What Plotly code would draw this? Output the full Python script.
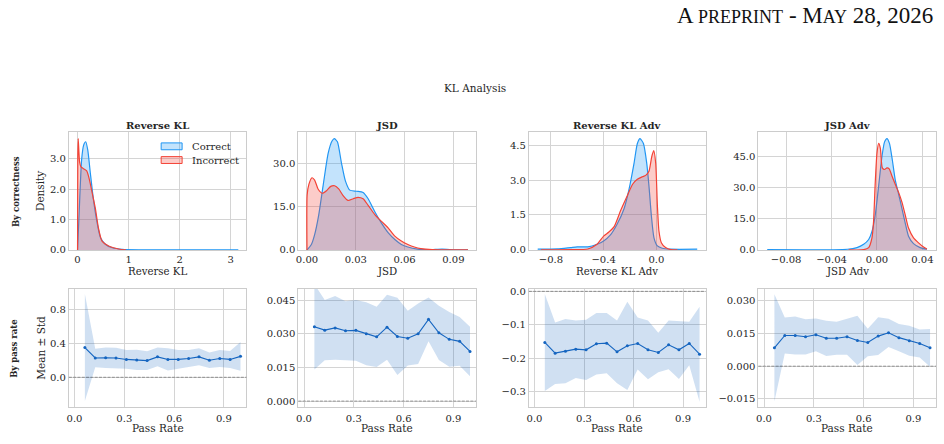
import plotly.graph_objects as go

W, H = 944, 444

# ---------------- data ----------------
panel_titles = ["Reverse KL", "JSD", "Reverse KL Adv", "JSD Adv"]
series_names = ["Correct", "Incorrect"]

# KDE curves (top row)
rkl_correct_x = [0, 0.027, 0.08, 0.12, 0.16, 0.2, 0.25, 0.31, 0.38, 0.45, 0.55, 0.68, 0.88, 1.2, 2.0, 3.15]
rkl_correct_y = [0, 1.04, 2.97, 3.45, 3.56, 3.29, 2.54, 1.68, 0.93, 0.4, 0.18, 0.07, 0.02, 0.005, 0.002, 0.0]
rkl_incorrect_x = [0, 0.005, 0.013, 0.04, 0.067, 0.11, 0.18, 0.23, 0.29, 0.35, 0.41, 0.48, 0.61, 0.81, 0.95]
rkl_incorrect_y = [0, 3.0, 3.66, 2.9, 2.73, 2.68, 2.6, 2.33, 1.85, 1.36, 0.72, 0.29, 0.13, 0.03, 0.0]

jsd_correct_x = [0, 0.0027, 0.0047, 0.0072, 0.0099, 0.013, 0.0154, 0.0168, 0.0187, 0.0212, 0.0236, 0.0263,
                 0.0304, 0.0345, 0.0376, 0.0417, 0.0458, 0.05, 0.054, 0.058, 0.062, 0.068, 0.075, 0.083, 0.091, 0.099]
jsd_correct_y = [0, 1.9, 5.3, 12.1, 22.3, 33.6, 37.9, 38.7, 37.6, 30.2, 24.0, 20.8,
                 20.4, 20.0, 17.8, 13.3, 9.3, 5.9, 3.6, 1.9, 1.0, 0.3, 0.05, 0.3, 0.02, 0.0]
jsd_incorrect_x = [0, 0.0001, 0.0012, 0.0031, 0.0047, 0.0068, 0.0095, 0.012, 0.0146, 0.017, 0.0195, 0.0222,
                   0.0253, 0.0284, 0.0314, 0.0345, 0.0376, 0.0417, 0.0458, 0.05, 0.054, 0.058, 0.062, 0.066,
                   0.070, 0.077, 0.09, 0.099]
jsd_incorrect_y = [0, 19.1, 22.9, 25.1, 24.3, 21.2, 19.7, 20.6, 22.1, 22.3, 21.2, 18.9,
                   17.2, 17.8, 18.3, 17.8, 15.5, 12.3, 9.9, 7.6, 4.8, 3.1, 1.9, 1.0,
                   0.45, 0.1, 0.0, 0.0]

rkla_correct_x = [-0.90, -0.75, -0.65, -0.6, -0.52, -0.45, -0.4, -0.35, -0.30, -0.245, -0.207, -0.169,
                  -0.144, -0.124, -0.098, -0.073, -0.056, -0.038, -0.018, 0.008, 0.045, 0.11, 0.31]
rkla_correct_y = [0.03, 0.04, 0.1, 0.13, 0.13, 0.24, 0.38, 0.63, 1.08, 1.77, 2.61, 3.73,
                  4.57, 4.78, 4.57, 3.73, 2.75, 1.49, 0.52, 0.17, 0.07, 0.03, 0.03]
rkla_incorrect_x = [-0.876, -0.65, -0.52, -0.45, -0.4, -0.36, -0.32, -0.27, -0.22, -0.18, -0.144, -0.106,
                    -0.081, -0.056, -0.035, -0.02, -0.005, 0.008, 0.02, 0.038, 0.07, 0.11, 0.16]
rkla_incorrect_y = [0.0, 0.01, 0.04, 0.24, 0.59, 0.77, 1.0, 1.7, 2.33, 2.82, 3.03, 3.14,
                    3.2, 3.38, 4.0, 4.26, 3.73, 1.91, 0.8, 0.31, 0.1, 0.01, 0.0]

jsda_correct_x = [-0.0966, -0.026, -0.0176, -0.0117, -0.0073, -0.0044, -0.0015, 0.0015, 0.0044, 0.0067,
                  0.0088, 0.011, 0.0135, 0.016, 0.019, 0.022, 0.0249, 0.0278, 0.0322, 0.038, 0.044]
jsda_correct_y = [0.1, 0.3, 1.1, 2.7, 5.0, 8.9, 16.8, 30.9, 45.0, 52.0,
                  53.6, 51.3, 43.4, 34.0, 27.0, 19.9, 12.9, 6.6, 3.0, 1.1, 0.3]
jsda_incorrect_x = [-0.0249, -0.0117, -0.0073, -0.0044, -0.003, -0.0015, 0.0, 0.0015, 0.003, 0.0047,
                    0.0067, 0.0088, 0.0108, 0.0132, 0.016, 0.019, 0.022, 0.0249, 0.0278, 0.0322,
                    0.0366, 0.041, 0.044]
jsda_incorrect_y = [0.0, 0.1, 1.1, 5.8, 13.6, 32.5, 46.6, 51.3, 48.9, 39.5,
                    38.7, 39.5, 39.0, 35.6, 31.7, 27.8, 23.0, 16.8, 10.5, 5.8,
                    3.4, 1.4, 0.4]

# Mean +/- std by pass rate (bottom row)
pass_rate = [0.0625, 0.125, 0.1875, 0.25, 0.3125, 0.375, 0.4375, 0.5,
             0.5625, 0.625, 0.6875, 0.75, 0.8125, 0.875, 0.9375, 1.0]
rkl_mean = [0.35, 0.227, 0.23, 0.227, 0.21, 0.204, 0.196, 0.24, 0.21, 0.21, 0.22, 0.24, 0.20, 0.22, 0.21, 0.246]
rkl_std = [0.63, 0.11, 0.12, 0.12, 0.11, 0.12, 0.11, 0.11, 0.13, 0.11, 0.10, 0.10, 0.09, 0.10, 0.10, 0.17]
jsd_mean = [0.0331, 0.0316, 0.0326, 0.0313, 0.0315, 0.0300, 0.0286, 0.0329,
            0.0288, 0.0280, 0.0300, 0.0364, 0.0304, 0.0275, 0.0266, 0.0221]
jsd_std = [0.019, 0.0134, 0.0142, 0.0132, 0.0135, 0.014, 0.0134, 0.0145,
           0.0172, 0.0122, 0.0135, 0.0097, 0.0121, 0.0122, 0.0109, 0.011]
rkla_mean = [-0.153, -0.185, -0.179, -0.173, -0.175, -0.157, -0.155, -0.181,
             -0.163, -0.156, -0.175, -0.183, -0.160, -0.175, -0.156, -0.188]
rkla_std = [0.145, 0.092, 0.096, 0.086, 0.090, 0.092, 0.090, 0.094,
            0.132, 0.078, 0.088, 0.059, 0.073, 0.087, 0.065, 0.142]
jsda_mean = [0.0084, 0.0141, 0.0141, 0.0135, 0.0144, 0.0128, 0.0128, 0.0135,
             0.0118, 0.0109, 0.0138, 0.0153, 0.0131, 0.0117, 0.0104, 0.0084]
jsda_std = [0.0246, 0.0083, 0.0087, 0.0081, 0.0075, 0.0081, 0.0076, 0.0083,
            0.0113, 0.0063, 0.0087, 0.0065, 0.0063, 0.0069, 0.0064, 0.0087]

# ---------------- styling ----------------
SERIF = "DejaVu Serif"
TXT = "#262626"
C_BLUE = "#2196F3"
C_RED = "#F44336"
F_BLUE = "rgba(33,150,243,0.27)"
F_RED = "rgba(244,67,54,0.27)"
C_LINE = "#1565C0"
F_BAND = "rgba(21,101,192,0.2)"
GRID = "#d4d4d4"
SPINE = "#cccccc"


def px_x(p):
    return p / W


def px_y(p):
    return 1 - p / H


col_px = [(67, 245), (297, 475), (528, 705), (758, 936)]
top_px = (132, 252)
bot_px = (292, 412)

kde = [
    (rkl_correct_x, rkl_correct_y, rkl_incorrect_x, rkl_incorrect_y),
    (jsd_correct_x, jsd_correct_y, jsd_incorrect_x, jsd_incorrect_y),
    (rkla_correct_x, rkla_correct_y, rkla_incorrect_x, rkla_incorrect_y),
    (jsda_correct_x, jsda_correct_y, jsda_incorrect_x, jsda_incorrect_y),
]
means = [rkl_mean, jsd_mean, rkla_mean, jsda_mean]
stds = [rkl_std, jsd_std, rkla_std, jsda_std]

top_xrange = [[-0.17, 3.31], [-0.0053, 0.1039], [-0.967, 0.373], [-0.1044, 0.052]]
top_yrange = [[0, 3.87], [0, 40.9], [0, 5.05], [0, 56.6]]
top_xticks = [[0, 1, 2, 3], [0, 0.03, 0.06, 0.09], [-0.8, -0.4, 0.0], [-0.08, -0.04, 0.0, 0.04]]
top_xfmt = ["d", ".2f", ".1f", ".2f"]
top_yticks = [[0, 1, 2, 3], [0, 15, 30], [0, 1.5, 3, 4.5], [0, 15, 30, 45]]

bot_xrange = [-0.034, 1.036]
bot_yrange = [[-0.346, 1.038], [-0.0025, 0.0499], [-0.345, 0.0067], [-0.0186, 0.0354]]
bot_yticks = [[0.0, 0.4, 0.8], [0, 0.015, 0.03, 0.045], [-0.3, -0.2, -0.1, 0.0], [-0.015, 0, 0.015, 0.03]]
bot_yfmt = [".1f", ".3f", ".1f", ".3f"]

fig = go.Figure()


def axis_base(**kw):
    d = dict(showgrid=True, gridcolor=GRID, gridwidth=1, zeroline=False,
             showline=True, linecolor=SPINE, linewidth=1, mirror=True,
             ticks="", tickfont=dict(family=SERIF, size=10, color=TXT),
             fixedrange=True)
    d.update(kw)
    return d


layout_axes = {}
annotations = []
shapes = []

for i in range(4):
    # ---- top row ----
    n = i + 1
    xa = "x" if n == 1 else f"x{n}"
    ya = "y" if n == 1 else f"y{n}"
    cx, cy, ix, iy = kde[i]
    fig.add_trace(go.Scatter(x=cx, y=cy, mode="lines", fill="tozeroy", fillcolor=F_BLUE,
                             line=dict(color=C_BLUE, width=1.2, shape="spline", smoothing=0.6),
                             name=series_names[0], showlegend=False, xaxis=xa, yaxis=ya))
    fig.add_trace(go.Scatter(x=ix, y=iy, mode="lines", fill="tozeroy", fillcolor=F_RED,
                             line=dict(color=C_RED, width=1.2, shape="spline", smoothing=0.6),
                             name=series_names[1], showlegend=False, xaxis=xa, yaxis=ya))
    layout_axes[f"xaxis{n}"] = axis_base(domain=[px_x(col_px[i][0]), px_x(col_px[i][1])],
                                         range=top_xrange[i], tickvals=top_xticks[i],
                                         tickformat=top_xfmt[i], anchor=ya, ticklabelstandoff=0)
    layout_axes[f"yaxis{n}"] = axis_base(domain=[px_y(top_px[1]), px_y(top_px[0])],
                                         range=top_yrange[i], tickvals=top_yticks[i],
                                         tickformat=".1f", anchor=xa)
    cxp = (col_px[i][0] + col_px[i][1]) / 2
    annotations.append(dict(text=f"<b>{panel_titles[i]}</b>", x=px_x(cxp), y=px_y(125.5),
                            xref="paper", yref="paper", showarrow=False, xanchor="center",
                            yanchor="middle", font=dict(family=SERIF, size=10, color=TXT)))
    annotations.append(dict(text=panel_titles[i], x=px_x(cxp), y=px_y(274),
                            xref="paper", yref="paper", showarrow=False, xanchor="center",
                            yanchor="middle", font=dict(family=SERIF, size=10.2, color=TXT)))

    # ---- bottom row ----
    m = i + 5
    xb = f"x{m}"
    yb = f"y{m}"
    upper = [a + b for a, b in zip(means[i], stds[i])]
    lower = [a - b for a, b in zip(means[i], stds[i])]
    fig.add_trace(go.Scatter(x=pass_rate, y=upper, mode="lines", line=dict(width=0, color=F_BAND),
                             showlegend=False, hoverinfo="skip", xaxis=xb, yaxis=yb))
    fig.add_trace(go.Scatter(x=pass_rate, y=lower, mode="lines", line=dict(width=0, color=F_BAND),
                             fill="tonexty", fillcolor=F_BAND,
                             showlegend=False, hoverinfo="skip", xaxis=xb, yaxis=yb))
    fig.add_trace(go.Scatter(x=pass_rate, y=means[i], mode="lines+markers",
                             line=dict(color=C_LINE, width=1.1), marker=dict(size=3, color=C_LINE),
                             showlegend=False, xaxis=xb, yaxis=yb))
    layout_axes[f"xaxis{m}"] = axis_base(domain=[px_x(col_px[i][0]), px_x(col_px[i][1])],
                                         range=bot_xrange, tickvals=[0, 0.3, 0.6, 0.9],
                                         tickformat=".1f", anchor=yb, ticklabelstandoff=2)
    layout_axes[f"yaxis{m}"] = axis_base(domain=[px_y(bot_px[1]), px_y(bot_px[0])],
                                         range=bot_yrange[i], tickvals=bot_yticks[i],
                                         tickformat=bot_yfmt[i], anchor=xb)
    shapes.append(dict(type="line", xref=f"{xb} domain", x0=0, x1=1, yref=yb, y0=0, y1=0,
                       line=dict(color="rgba(0,0,0,0.45)", width=0.8, dash="3px,1.3px"), layer="above"))
    annotations.append(dict(text="Pass Rate", x=px_x(cxp), y=px_y(434),
                            xref="paper", yref="paper", showarrow=False, xanchor="center",
                            yanchor="middle", font=dict(family=SERIF, size=10.5, color=TXT)))

# y titles, row labels
annotations += [
    dict(text="Density", x=px_x(38), y=px_y(192), xref="paper", yref="paper", showarrow=False,
         textangle=-90, xanchor="center", yanchor="middle", font=dict(family=SERIF, size=10.5, color=TXT)),
    dict(text="Mean ± Std", x=px_x(39), y=px_y(352), xref="paper", yref="paper", showarrow=False,
         textangle=-90, xanchor="center", yanchor="middle", font=dict(family=SERIF, size=10.5, color=TXT)),
    dict(text="<b>By correctness</b>", x=px_x(14), y=px_y(192), xref="paper", yref="paper", showarrow=False,
         textangle=-90, xanchor="center", yanchor="middle", font=dict(family=SERIF, size=8.5, color=TXT)),
    dict(text="<b>By pass rate</b>", x=px_x(12), y=px_y(352), xref="paper", yref="paper", showarrow=False,
         textangle=-90, xanchor="center", yanchor="middle", font=dict(family=SERIF, size=8.5, color=TXT)),
    dict(text="KL Analysis", x=px_x(474), y=px_y(86.5), xref="paper", yref="paper", showarrow=False,
         xanchor="center", yanchor="middle", font=dict(family=SERIF, size=10.5, color=TXT)),
    dict(text="A <span style='font-size:18px'>PREPRINT</span> - M<span style='font-size:18px'>AY</span> 28, 2026",
         x=px_x(935), y=px_y(13), xref="paper", yref="paper", showarrow=False,
         xanchor="right", yanchor="middle", font=dict(family="Liberation Serif", size=23, color="#111")),
]

# manual legend in first top panel
leg_items = [(series_names[0], C_BLUE, F_BLUE, 146.3), (series_names[1], C_RED, F_RED, 160.3)]
for name, lc, fc, yc in leg_items:
    shapes.append(dict(type="rect", xref="paper", yref="paper",
                       x0=px_x(159.5), x1=px_x(180.5), y0=px_y(yc + 3.5), y1=px_y(yc - 3.5),
                       line=dict(color=lc, width=1), fillcolor=fc, layer="above"))
    annotations.append(dict(text=name, x=px_x(188), y=px_y(yc), xref="paper", yref="paper",
                            showarrow=False, xanchor="left", yanchor="middle",
                            font=dict(family=SERIF, size=10, color=TXT)))

fig.update_layout(width=W, height=H, margin=dict(l=0, r=0, t=0, b=0),
                  paper_bgcolor="white", plot_bgcolor="white", showlegend=False,
                  annotations=annotations, shapes=shapes, **layout_axes)

fig.write_html("out.html")
